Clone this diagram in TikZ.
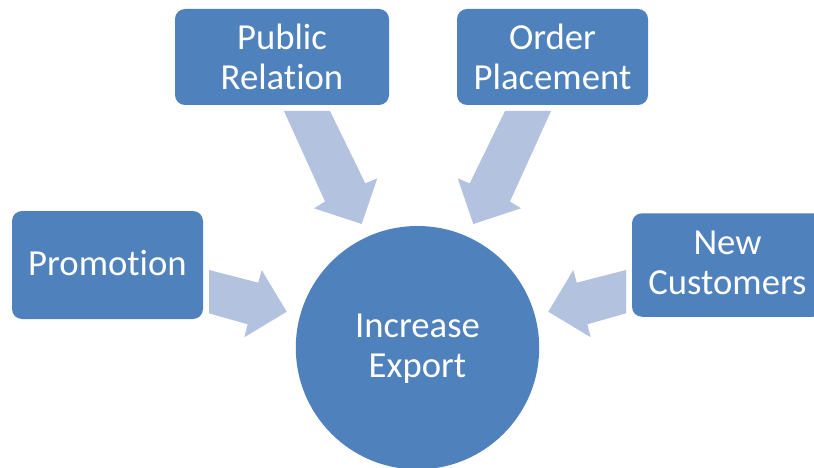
\documentclass[tikz,border=0pt]{standalone}
\usepackage{fontspec}
\setmainfont[Ligatures={NoCommon}]{Carlito}
\definecolor{boxblue}{RGB}{79,129,189}
\definecolor{arrowblue}{RGB}{179,194,222}
\begin{document}
\begin{tikzpicture}[x=1pt,y=-1pt,
  txt/.style={text=white,font=\fontsize{36.7}{40}\selectfont,align=center,inner sep=0pt},
  boxnode/.style={txt,fill=boxblue,rounded corners=10pt},
  blockarrow/.style={fill=arrowblue,draw=none}]
\useasboundingbox (0,0) rectangle (814,468);
% block arrows
\fill[blockarrow] (284,111) -- (330,111) -- (365.3,183.4) -- (377.3,178.3) -- (361.7,224) -- (314,208.3) -- (325,201.5) -- cycle;
\fill[blockarrow] (551,111) -- (505,111) -- (469.7,183.4) -- (457.7,178.3) -- (473.3,224) -- (521,208.3) -- (510,201.5) -- cycle;
\fill[blockarrow] (209,270) -- (258.3,282.7) -- (261.7,270) -- (286.7,311.7) -- (244.3,337.3) -- (247.7,324.3) -- (209,313.3) -- cycle;
\fill[blockarrow] (626,270) -- (576.7,282.7) -- (573.3,270) -- (548.3,311.7) -- (590.7,337.3) -- (587.3,324.3) -- (626,313.3) -- cycle;
% boxes
\node[boxnode,minimum width=214pt,minimum height=96pt] (pr) at (282,57) {Public\\Relation};
\node[boxnode,minimum width=191pt,minimum height=96pt] (op) at (552.5,57) {Order\\Placement};
\node[boxnode,minimum width=191pt,minimum height=108pt,text depth=5pt] (pm) at (107.5,265) {Promotion};
\node[boxnode,minimum width=191pt,minimum height=103.5pt,text depth=5pt] (nc) at (727.5,265) {New\\Customers};
\node[txt,circle,fill=boxblue,minimum size=243.4pt,text depth=3pt] (ie) at (417.5,347.7) {Increase\\Export};
\end{tikzpicture}
\end{document}
